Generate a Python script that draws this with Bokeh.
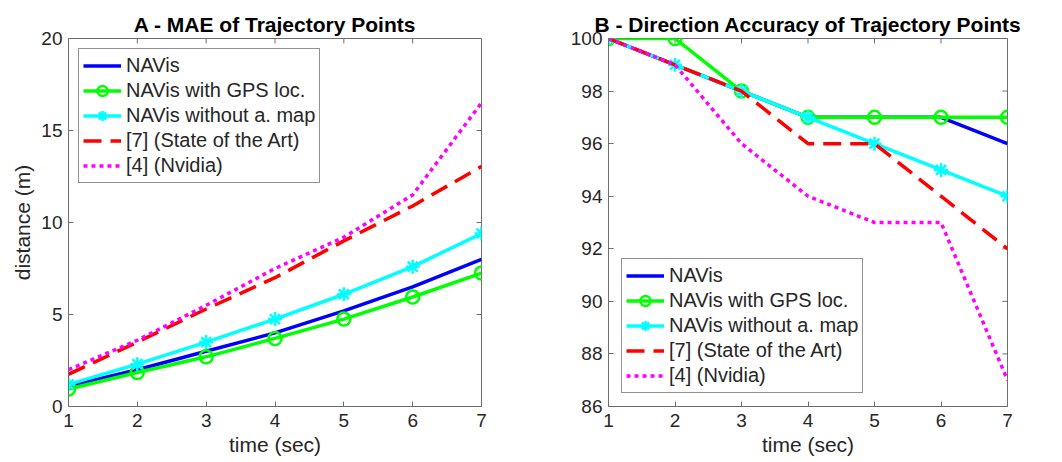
import math
from bokeh.plotting import figure
from bokeh.layouts import row
from bokeh.models import Range1d, FixedTicker
from bokeh.embed import file_html
from bokeh.resources import INLINE

# ---- data ----
time = [1, 2, 3, 4, 5, 6, 7]
x_ticks = [1, 2, 3, 4, 5, 6, 7]
series_names = ["NAVis", "NAVis with GPS loc.", "NAVis without a. map",
                "[7] (State of the Art)", "[4] (Nvidia)"]

mae_navis = [1.1, 2.0, 3.0, 4.0, 5.2, 6.5, 8.0]
mae_gps = [0.95, 1.85, 2.7, 3.7, 4.75, 5.95, 7.25]
mae_nomap = [1.2, 2.3, 3.5, 4.75, 6.1, 7.6, 9.4]
mae_sota = [1.75, 3.5, 5.3, 7.0, 9.0, 10.9, 13.05]
mae_nvidia = [2.0, 3.6, 5.5, 7.5, 9.2, 11.5, 16.5]
mae_ticks = [0, 5, 10, 15, 20]

acc_navis = [100, 99, 98, 97, 97, 97, 96]
acc_gps = [100, 100, 98, 97, 97, 97, 97]
acc_nomap = [100, 99, 98, 97, 96, 95, 94]
acc_sota = [100, 99, 98, 96, 96, 94, 92]
acc_nvidia = [100, 99, 96, 94, 93, 93, 87]
acc_ticks = [86, 88, 90, 92, 94, 96, 98, 100]

COLORS = ["#0000ff", "#00ff00", "#00ffff", "#ff0000", "#ff00ff"]
DASHES = ["solid", "solid", "solid", "18 9", "4 4"]
FONT = "Liberation Sans"
TXT = "#262626"
AXC = "#6e6e6e"


def make_fig(title, series, yr, yticks, ylabel, width, bl, br, legend_loc, legend_margin):
    p = figure(width=width, height=462, x_range=Range1d(1, 7), y_range=Range1d(*yr),
               output_backend="svg", toolbar_location=None,
               min_border_left=bl, min_border_right=br,
               min_border_top=38, min_border_bottom=56)
    p.grid.visible = False
    p.outline_line_color = AXC
    p.outline_line_width = 1
    p.title.text = title
    p.title.text_font = FONT
    p.title.text_font_size = "21px"
    p.title.text_font_style = "bold"
    p.title.text_color = "#000000"
    p.title.align = "center"
    p.title.standoff = 5

    for ax in (p.xaxis[0], p.yaxis[0]):
        ax.major_label_text_font = FONT
        ax.major_label_text_font_size = "19px"
        ax.major_label_text_color = TXT
        ax.axis_label_text_font = FONT
        ax.axis_label_text_font_size = "21px"
        ax.axis_label_text_font_style = "normal"
        ax.axis_label_text_color = TXT
        ax.axis_line_color = AXC
        ax.major_tick_line_color = AXC
        ax.major_tick_in = 5
        ax.major_tick_out = 0
        ax.minor_tick_in = 0
        ax.minor_tick_out = 0
    p.xaxis.major_label_standoff = 7
    p.xaxis.axis_label_standoff = 3
    p.yaxis.major_label_standoff = 6
    p.yaxis.axis_label_standoff = 4
    p.xaxis.ticker = FixedTicker(ticks=x_ticks)
    p.yaxis.ticker = FixedTicker(ticks=yticks)
    p.xaxis.axis_label = "time (sec)"
    if ylabel:
        p.yaxis.axis_label = ylabel

    # mirrored inward ticks on the top and right edges (half of each dash is clipped)
    p.scatter(x_ticks, [yr[1]] * len(x_ticks), marker="dash", angle=math.pi / 2,
              size=10, line_color=AXC, line_width=1)
    p.scatter([7] * len(yticks), yticks, marker="dash", angle=0,
              size=10, line_color=AXC, line_width=1)

    for i, ys in enumerate(series):
        name = series_names[i]
        p.line(time, ys, line_color=COLORS[i], line_width=3.5, line_dash=DASHES[i],
               legend_label=name)
        if i == 1:
            p.scatter(time, ys, marker="circle", size=13, fill_color=None,
                      line_color=COLORS[i], line_width=2.5, legend_label=name)
        if i == 2:
            p.scatter(time, ys, marker="asterisk", size=14,
                      line_color=COLORS[i], line_width=2.5, legend_label=name)

    lg = p.legend[0]
    lg.location = legend_loc
    lg.margin = legend_margin
    lg.label_text_font = FONT
    lg.label_text_font_size = "20px"
    lg.label_text_color = TXT
    lg.label_height = 25
    lg.glyph_height = 25
    lg.glyph_width = 38
    lg.label_standoff = 5
    lg.spacing = 0
    lg.padding = 4
    lg.border_line_color = "#262626"
    lg.border_line_width = 1
    lg.background_fill_color = "white"
    lg.background_fill_alpha = 1
    return p


p1 = make_fig("A - MAE of Trajectory Points",
              [mae_navis, mae_gps, mae_nomap, mae_sota, mae_nvidia],
              (0, 20), mae_ticks, "distance (m)", 528, 68, 47, "top_left", 10)
p2 = make_fig("B - Direction Accuracy of Trajectory Points",
              [acc_navis, acc_gps, acc_nomap, acc_sota, acc_nvidia],
              (86, 100), acc_ticks, None, 526, 80, 47, "bottom_left", 13)

layout = row(p1, p2)
open("out.html", "w").write(file_html(layout, INLINE))
